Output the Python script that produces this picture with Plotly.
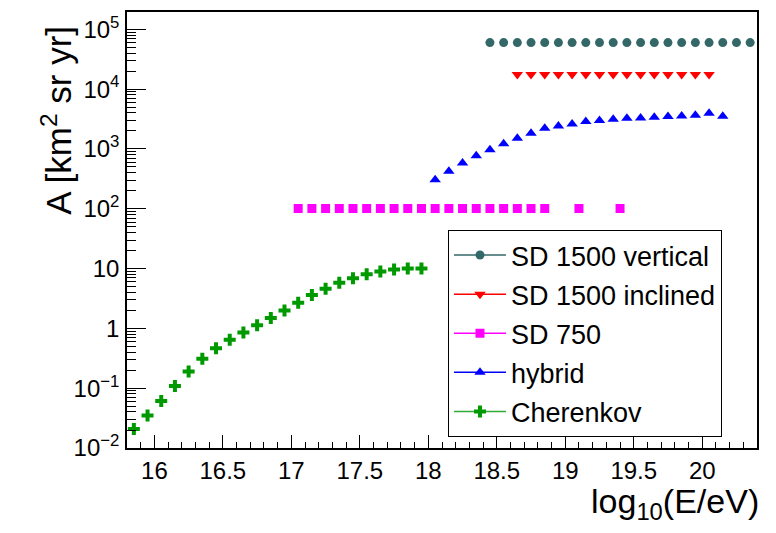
import plotly.graph_objects as go

# ---- data ----
sd1500v_x = [18.45 + 0.1 * i for i in range(20)]
sd1500v_y = [6.0e4] * 20

sd1500i_x = [18.65 + 0.1 * i for i in range(15)]
sd1500i_y = [1.75e4] * 15

sd750_x = [17.05, 17.15, 17.25, 17.35, 17.45, 17.55, 17.65, 17.75, 17.85, 17.95,
           18.05, 18.15, 18.25, 18.35, 18.45, 18.55, 18.65, 18.75, 18.85, 19.1, 19.4]
sd750_y = [101] * 21

hybrid_x = [18.05, 18.15, 18.25, 18.35, 18.45, 18.55, 18.65, 18.75, 18.85, 18.95, 19.05,
            19.15, 19.25, 19.35, 19.45, 19.55, 19.65, 19.75, 19.85, 19.95, 20.05, 20.15]
hybrid_y = [307, 423, 580, 771, 970, 1222, 1513, 1832, 2218, 2432, 2625,
            2868, 2980, 3130, 3258, 3305, 3380, 3475, 3567, 3655, 3944, 3515]

cher_x = [15.85, 15.95, 16.05, 16.15, 16.25, 16.35, 16.45, 16.55, 16.65, 16.75, 16.85,
          16.95, 17.05, 17.15, 17.25, 17.35, 17.45, 17.55, 17.65, 17.75, 17.85, 17.95]
cher_y = [0.0207, 0.035, 0.0612, 0.109, 0.191, 0.31, 0.467, 0.644, 0.851, 1.127, 1.495,
          2.0, 2.69, 3.6, 4.59, 5.78, 6.92, 8.07, 8.91, 9.62, 10.0, 10.0]

y_tickvals = [1e-2, 1e-1, 1, 10, 1e2, 1e3, 1e4, 1e5]
y_ticktext = ["10<sup>−2</sup>", "10<sup>−1</sup>", "1", "10",
              "10<sup>2</sup>", "10<sup>3</sup>", "10<sup>4</sup>", "10<sup>5</sup>"]

series = [
    ("SD 1500 vertical", sd1500v_x, sd1500v_y, "circle", "#346868", "#346868", 9),
    ("SD 1500 inclined", sd1500i_x, sd1500i_y, "triangle-down", "#ff0000", "#ff0000", 10),
    ("SD 750", sd750_x, sd750_y, "square", "#ff00ff", "#ff00ff", 9),
    ("hybrid", hybrid_x, hybrid_y, "triangle-up", "#0000ff", "#0000ff", 10),
    ("Cherenkov", cher_x, cher_y, "cross", "#009a00", "#33aa33", 10),
]

FONT = "Liberation Sans, Arial, Helvetica, sans-serif"

fig = go.Figure()
for name, xs, ys, sym, mcol, lcol, sz in series:
    fig.add_trace(go.Scatter(x=xs, y=ys, mode="markers", name=name, showlegend=False,
                             marker=dict(symbol=sym, color=mcol, size=sz, line=dict(width=0))))
for name, xs, ys, sym, mcol, lcol, sz in series:
    fig.add_trace(go.Scatter(x=[None], y=[None], mode="lines+markers", name=name,
                             legendgroup=name,
                             line=dict(color=lcol, width=1.5),
                             marker=dict(symbol=sym, color=mcol, size=sz, line=dict(width=0))))

minor_y = [m * 10 ** e for e in range(-2, 6) for m in range(2, 10)]

# the page adds an 8 px body margin; margins below compensate for it
fig.update_layout(
    width=776, height=533,
    margin=dict(l=119, r=27, t=2, b=93),
    paper_bgcolor="white", plot_bgcolor="white",
    font=dict(family=FONT, color="black"),
    showlegend=True,
    legend=dict(x=0.5095, y=0.5, xanchor="left", yanchor="top",
                bgcolor="white", bordercolor="black", borderwidth=1,
                font=dict(size=27, family=FONT), tracegroupgap=1,
                itemwidth=52),
    xaxis=dict(range=[15.8, 20.4], tick0=16, dtick=0.5,
               ticks="inside", ticklen=13, tickwidth=1, tickcolor="black",
               showgrid=False, zeroline=False,
               showline=True, linecolor="black", linewidth=1.5, mirror=True,
               tickfont=dict(size=24, family=FONT), ticklabelstandoff=0,
               minor=dict(dtick=0.1, ticks="inside", ticklen=6, tickcolor="black", showgrid=False)),
    yaxis=dict(type="log", range=[-2, 5.29],
               tickmode="array", tickvals=y_tickvals, ticktext=y_ticktext,
               ticks="inside", ticklen=19, tickwidth=1, tickcolor="black",
               showgrid=False, zeroline=False,
               showline=True, linecolor="black", linewidth=1.5, mirror=True,
               tickfont=dict(size=24, family=FONT), ticklabelstandoff=1,
               minor=dict(tickmode="array", tickvals=minor_y, ticks="inside", ticklen=9,
                          tickcolor="black", showgrid=False)),
    annotations=[
        dict(text="log<sub>10</sub>(E/eV)", xref="paper", yref="paper", x=1.0, y=-0.0776,
             xanchor="right", yanchor="top", showarrow=False, xshift=4, yshift=2,
             font=dict(size=34, family=FONT)),
        dict(text="A [km<sup>2</sup> sr yr]", xref="paper", yref="paper", x=-0.1125, y=1.0,
             xanchor="center", yanchor="top", textangle=-90, showarrow=False, yshift=-12,
             font=dict(size=35, family=FONT)),
    ],
)

fig.write_html("out.html")
